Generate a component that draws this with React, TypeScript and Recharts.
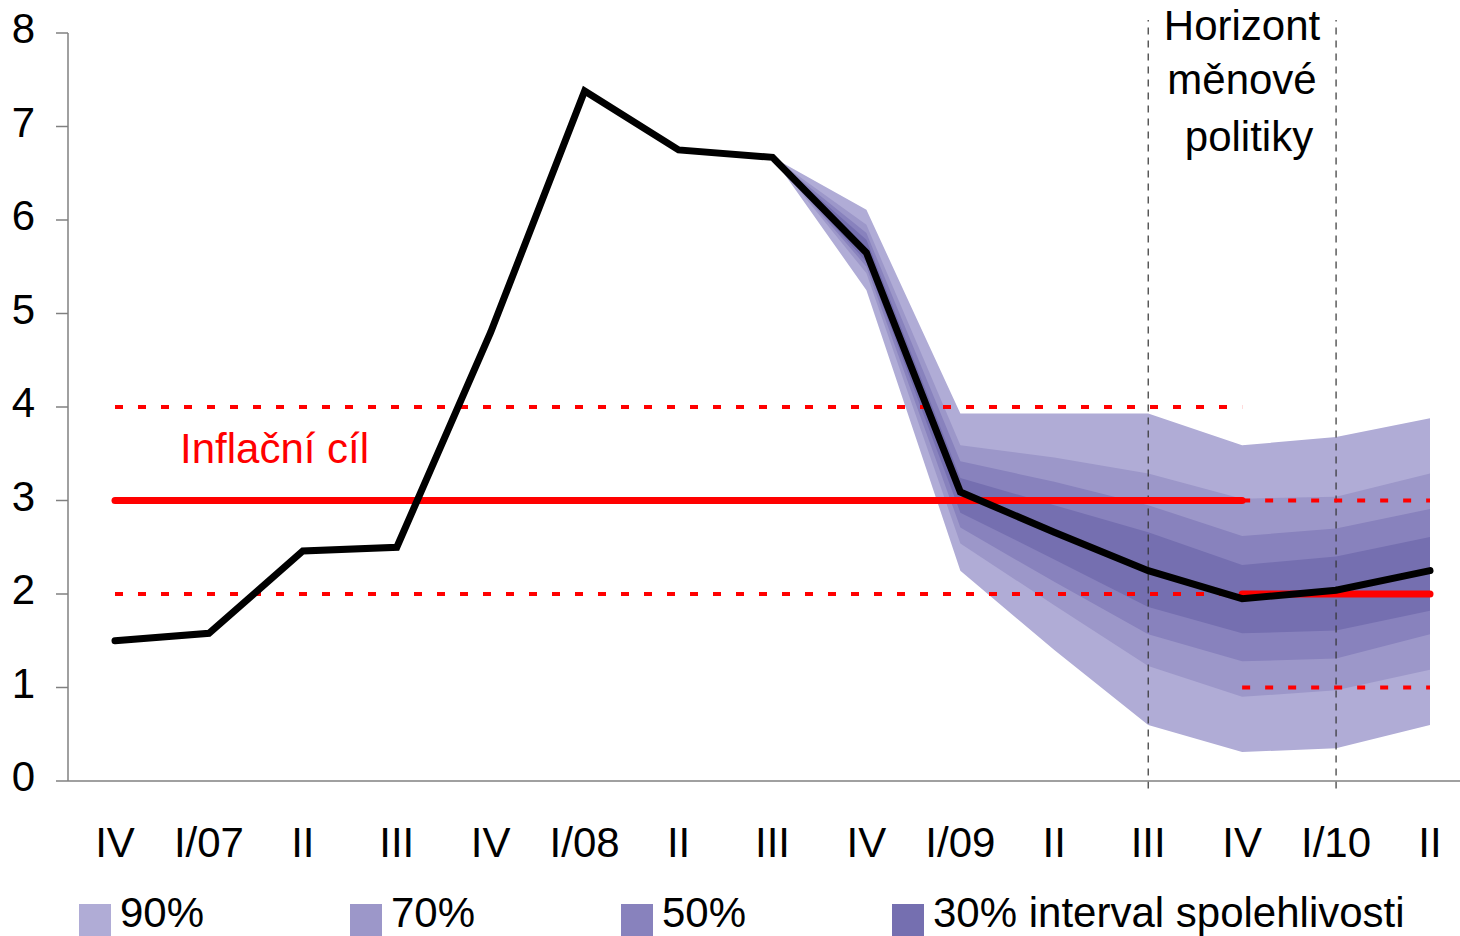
import { ComposedChart, Area, Line, XAxis, YAxis, ReferenceLine } from "recharts";

const quarters = ["IV/06", "I/07", "II/07", "III/07", "IV/07", "I/08", "II/08", "III/08", "IV/08", "I/09", "II/09", "III/09", "IV/09", "I/10", "II/10"];
const tickLabels = ["IV", "I/07", "II", "III", "IV", "I/08", "II", "III", "IV", "I/09", "II", "III", "IV", "I/10", "II"];
const inflation = [1.5, 1.58, 2.46, 2.5, 4.8, 7.38, 6.75, 6.67, 5.65, 3.09, 2.66, 2.25, 1.95, 2.04, 2.25];

const N = null;
const low90 = [N, N, N, N, N, N, N, 6.67, 5.25, 2.25, 1.4, 0.6, 0.31, 0.35, 0.6];
const high90 = [N, N, N, N, N, N, N, 6.67, 6.11, 3.93, 3.93, 3.93, 3.59, 3.68, 3.88];
const low70 = [N, N, N, N, N, N, N, 6.67, 5.43, 2.54, 1.88, 1.23, 0.9, 0.97, 1.19];
const high70 = [N, N, N, N, N, N, N, 6.67, 5.95, 3.59, 3.46, 3.29, 3.02, 3.04, 3.29];
const low50 = [N, N, N, N, N, N, N, 6.67, 5.5, 2.71, 2.13, 1.57, 1.28, 1.31, 1.57];
const high50 = [N, N, N, N, N, N, N, 6.67, 5.86, 3.42, 3.2, 2.95, 2.62, 2.7, 2.91];
const low30 = [N, N, N, N, N, N, N, 6.67, 5.55, 2.87, 2.37, 1.86, 1.58, 1.61, 1.82];
const high30 = [N, N, N, N, N, N, N, 6.67, 5.79, 3.24, 2.95, 2.66, 2.31, 2.4, 2.61];

// inflační cíl a pásmo tolerance
const target = [3, 3, 3, 3, 3, 3, 3, 3, 3, 3, 3, 3, 3, N, N];
const targetNew = [N, N, N, N, N, N, N, N, N, N, N, N, 2, 2, 2];
const bandUpper = [4, 4, 4, 4, 4, 4, 4, 4, 4, 4, 4, 4, 4, N, N];
const bandLower = [2, 2, 2, 2, 2, 2, 2, 2, 2, 2, 2, 2, 2, N, N];
const bandUpperNew = [N, N, N, N, N, N, N, N, N, N, N, N, 3, 3, 3];
const bandLowerNew = [N, N, N, N, N, N, N, N, N, N, N, N, 1, 1, 1];

const yTicks = [0, 1, 2, 3, 4, 5, 6, 7, 8];

const legendItems = [
  { label: "90%", color: "#b0acd6" },
  { label: "70%", color: "#9c97c9" },
  { label: "50%", color: "#8882bd" },
  { label: "30% interval spolehlivosti", color: "#756fb0" },
];

const range = (lo: (number | null)[], hi: (number | null)[], i: number) =>
  lo[i] == null || hi[i] == null ? null : [lo[i], hi[i]];

const data = quarters.map((q, i) => ({
  q,
  b90: range(low90, high90, i),
  b70: range(low70, high70, i),
  b50: range(low50, high50, i),
  b30: range(low30, high30, i),
  infl: inflation[i],
  target: target[i],
  targetNew: targetNew[i],
  bandUpper: bandUpper[i],
  bandLower: bandLower[i],
  bandUpperNew: bandUpperNew[i],
  bandLowerNew: bandLowerNew[i],
}));

const FONT = "'Liberation Sans', Arial, sans-serif";

function XTick(props: any) {
  const { x, y, index } = props;
  return (
    <text x={x} y={y + 76} textAnchor="middle" fontSize={42} fontFamily={FONT} fill="#000">
      {tickLabels[index]}
    </text>
  );
}

function YTick(props: any) {
  const { x, y, payload } = props;
  return (
    <text x={x - 19} y={y + 10} textAnchor="end" fontSize={42} fontFamily={FONT} fill="#000">
      {payload.value}
    </text>
  );
}

export default function App() {
  return (
    <div style={{ position: "absolute", left: 0, top: 0, width: 1460, height: 936, background: "#fff" }}>
      <ComposedChart width={1460} height={936} data={data} margin={{ top: 33, right: 0, left: 0, bottom: 95 }}>
        <XAxis
          dataKey="q"
          scale="point"
          padding={{ left: 47, right: 30 }}
          interval={0}
          tickLine={false}
          tickSize={0}
          tickMargin={0}
          height={60}
          axisLine={{ stroke: "#808080", strokeWidth: 1.5 }}
          tick={<XTick />}
        />
        <YAxis
          domain={[0, 8]}
          ticks={yTicks}
          width={68}
          tickSize={12}
          tickLine={{ stroke: "#808080", strokeWidth: 1.5 }}
          axisLine={{ stroke: "#808080", strokeWidth: 1.5 }}
          tick={<YTick />}
        />
        <Area dataKey="b90" stroke="none" fill={legendItems[0].color} fillOpacity={1} isAnimationActive={false} />
        <Area dataKey="b70" stroke="none" fill={legendItems[1].color} fillOpacity={1} isAnimationActive={false} />
        <Area dataKey="b50" stroke="none" fill={legendItems[2].color} fillOpacity={1} isAnimationActive={false} />
        <Area dataKey="b30" stroke="none" fill={legendItems[3].color} fillOpacity={1} isAnimationActive={false} />

        <ReferenceLine
          segment={[{ x: "III/09", y: -0.08 }, { x: "III/09", y: 8.14 }]}
          ifOverflow="visible"
          stroke="#333"
          strokeWidth={1.2}
          strokeDasharray="7 6"
        />
        <ReferenceLine
          segment={[{ x: "I/10", y: -0.08 }, { x: "I/10", y: 8.14 }]}
          ifOverflow="visible"
          stroke="#333"
          strokeWidth={1.2}
          strokeDasharray="7 6"
        />

        <Line dataKey="bandUpper" stroke="#ff0000" strokeWidth={4} strokeDasharray="8 15" dot={false} isAnimationActive={false} />
        <Line dataKey="bandLower" stroke="#ff0000" strokeWidth={4} strokeDasharray="8 15" dot={false} isAnimationActive={false} />
        <Line dataKey="bandUpperNew" stroke="#ff0000" strokeWidth={4} strokeDasharray="8 15" dot={false} isAnimationActive={false} />
        <Line dataKey="bandLowerNew" stroke="#ff0000" strokeWidth={4} strokeDasharray="8 15" dot={false} isAnimationActive={false} />
        <Line dataKey="target" stroke="#ff0000" strokeWidth={7} strokeLinecap="round" dot={false} isAnimationActive={false} />
        <Line dataKey="targetNew" stroke="#ff0000" strokeWidth={7} strokeLinecap="round" dot={false} isAnimationActive={false} />
        <Line dataKey="infl" stroke="#000" strokeWidth={7} strokeLinecap="round" dot={false} isAnimationActive={false} />
      </ComposedChart>

      <svg width={1460} height={936} style={{ position: "absolute", left: 0, top: 0, pointerEvents: "none" }}>
        <text x={180} y={463} fontSize={42} fontFamily={FONT} fill="#ff0000">Inflační cíl</text>
        <g fontSize={42} fontFamily={FONT} fill="#000" textAnchor="middle">
          <text x={1242} y={40}>Horizont</text>
          <text x={1242} y={94}>měnové</text>
          <text x={1249} y={151}>politiky</text>
        </g>
        {legendItems.map((it, i) => (
          <g key={it.label}>
            <rect x={79 + i * 271} y={904} width={32} height={32} fill={it.color} />
            <text x={120 + i * 271} y={927} fontSize={42} fontFamily={FONT} fill="#000">{it.label}</text>
          </g>
        ))}
      </svg>
    </div>
  );
}
